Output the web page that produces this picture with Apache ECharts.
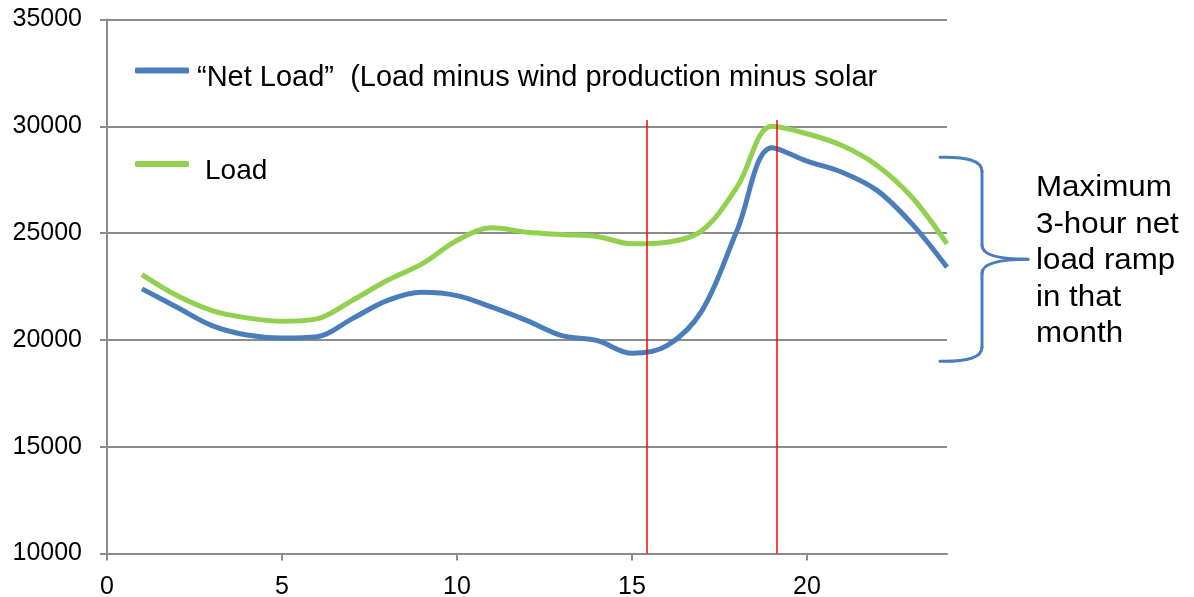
<!DOCTYPE html>
<html>
<head>
<meta charset="utf-8">
<script src="https://cdn.jsdelivr.net/npm/echarts@6/dist/echarts.min.js"></script>
<style>
html,body{margin:0;padding:0;background:#fff;}
#chart{width:1194px;height:597px;}
</style>
</head>
<body>
<div id="chart"></div>
<script>
// ---- data ----
var hours = [1,2,3,4,5,6,7,8,9,10,11,12,13,14,15,16,17,18,19,20,21,22,23,24];
var netLoad = [22390,21530,20670,20230,20090,20150,20985,21840,22230,22075,21530,20900,20200,19970,19370,19730,21370,25120,29000,28370,27850,27000,25430,23400];
var load = [23060,22076,21373,21030,20870,20985,21840,22780,23560,24650,25250,25040,24935,24840,24500,24575,25120,27150,30000,29650,29100,28170,26680,24500];
var xTicks = [0,5,10,15,20];
var yTicks = [10000,15000,20000,25000,30000,35000];
var redLineX = [15.43, 19.14];
var redLineY = [10000, 30300];
var braceRange = [19000, 28550];
var netName = '\u201cNet Load\u201d  (Load minus wind production minus solar';
var loadName = 'Load';
var annotation = 'Maximum\n3-hour net\nload ramp\nin that\nmonth';

function pairs(xs, ys){ return xs.map(function(x,i){ return [x, ys[i]]; }); }

var chart = echarts.init(document.getElementById('chart'), null, {renderer:'canvas'});
var FONT = 'Liberation Sans, Arial, sans-serif';
var gridColor = '#8c8c8c';

var option = {
  animation:false,
  backgroundColor:'#ffffff',
  textStyle:{fontFamily:FONT},
  grid:{left:107, right:247, top:19.5, bottom:43.5, containLabel:false, outerBoundsMode:'none'},
  legend:{
    orient:'vertical', left:130, top:44, itemGap:51,
    itemWidth:54, itemHeight:6, icon:'roundRect',
    formatter:function(name){ return name === loadName ? '{l|' + name + '}' : '{n|' + name + '}'; },
    textStyle:{
      fontFamily:FONT, fontSize:28, color:'#000',
      rich:{
        n:{fontFamily:FONT, fontSize:29, color:'#000', lineHeight:34, padding:[14,0,0,3]},
        l:{fontFamily:FONT, fontSize:28, color:'#000', lineHeight:34, padding:[14,0,0,11]}
      }
    },
    data:[netName, loadName],
    selectedMode:false
  },
  xAxis:{
    type:'value', min:0, max:24, interval:5,
    axisLine:{show:true, onZero:false, lineStyle:{color:gridColor, width:2}},
    axisTick:{show:true, inside:false, length:7, customValues:xTicks, lineStyle:{color:gridColor, width:2}},
    axisLabel:{fontFamily:FONT, fontSize:25, color:'#000', margin:21, customValues:xTicks,
      formatter:function(v){ return String(v); }},
    splitLine:{show:false}
  },
  yAxis:{
    type:'value', min:10000, max:35000, interval:5000,
    axisLine:{show:true, lineStyle:{color:gridColor, width:2}},
    axisTick:{show:true, inside:false, length:7, lineStyle:{color:gridColor, width:2}},
    axisLabel:{fontFamily:FONT, fontSize:25, color:'#000', margin:25,
      formatter:function(v){ return String(v); }},
    splitLine:{show:true, lineStyle:{color:gridColor, width:2}}
  },
  series:[
    {
      name:netName, type:'line', data:pairs(hours, netLoad), smooth:0.35,
      symbol:'none', lineStyle:{color:'#4a7ebb', width:5}, itemStyle:{color:'#4a7ebb'},
      z:3,
      markLine:{
        silent:true, symbol:'none', animation:false,
        label:{show:false},
        lineStyle:{color:'#ff0000', width:1.5, type:'solid'},
        data: redLineX.map(function(x){ return [{coord:[x, redLineY[0]]},{coord:[x, redLineY[1]]}]; })
      }
    },
    {
      name:loadName, type:'line', data:pairs(hours, load), smooth:0.35,
      symbol:'none', lineStyle:{color:'#92d050', width:5}, itemStyle:{color:'#92d050'},
      z:2
    }
  ]
};
chart.setOption(option);

// brace + annotation, positioned from data values
var yTop = chart.convertToPixel({gridIndex:0}, [24, braceRange[1]])[1];
var yBot = chart.convertToPixel({gridIndex:0}, [24, braceRange[0]])[1];
var yMid = (yTop + yBot) / 2;
var xL = 940, xV = 982, xTip = 1028;
var bs = {fill:null, stroke:'#4a7ebb', lineWidth:3, lineCap:'round'};
function curve(x1,y1,cx,cy,x2,y2){ return {type:'bezierCurve', silent:true, shape:{x1:x1,y1:y1,cpx1:cx,cpy1:cy,x2:x2,y2:y2}, style:bs}; }
function seg(x1,y1,x2,y2){ return {type:'line', silent:true, shape:{x1:x1,y1:y1,x2:x2,y2:y2}, style:bs}; }
chart.setOption({
  graphic:[
    curve(xL, yTop, xV, yTop-1, xV, yTop+14),
    seg(xV, yTop+14, xV, yMid-14),
    curve(xV, yMid-14, xV, yMid, xTip, yMid),
    curve(xTip, yMid, xV, yMid, xV, yMid+14),
    seg(xV, yMid+14, xV, yBot-14),
    curve(xV, yBot-14, xV, yBot+1, xL, yBot),
    {type:'text', x:1036, y:170, scaleX:1.08, silent:true, style:{text:annotation, font:'29px ' + FONT, fill:'#000', lineHeight:36.5, verticalAlign:'top', align:'left'}}
  ]
});
</script>
</body>
</html>
